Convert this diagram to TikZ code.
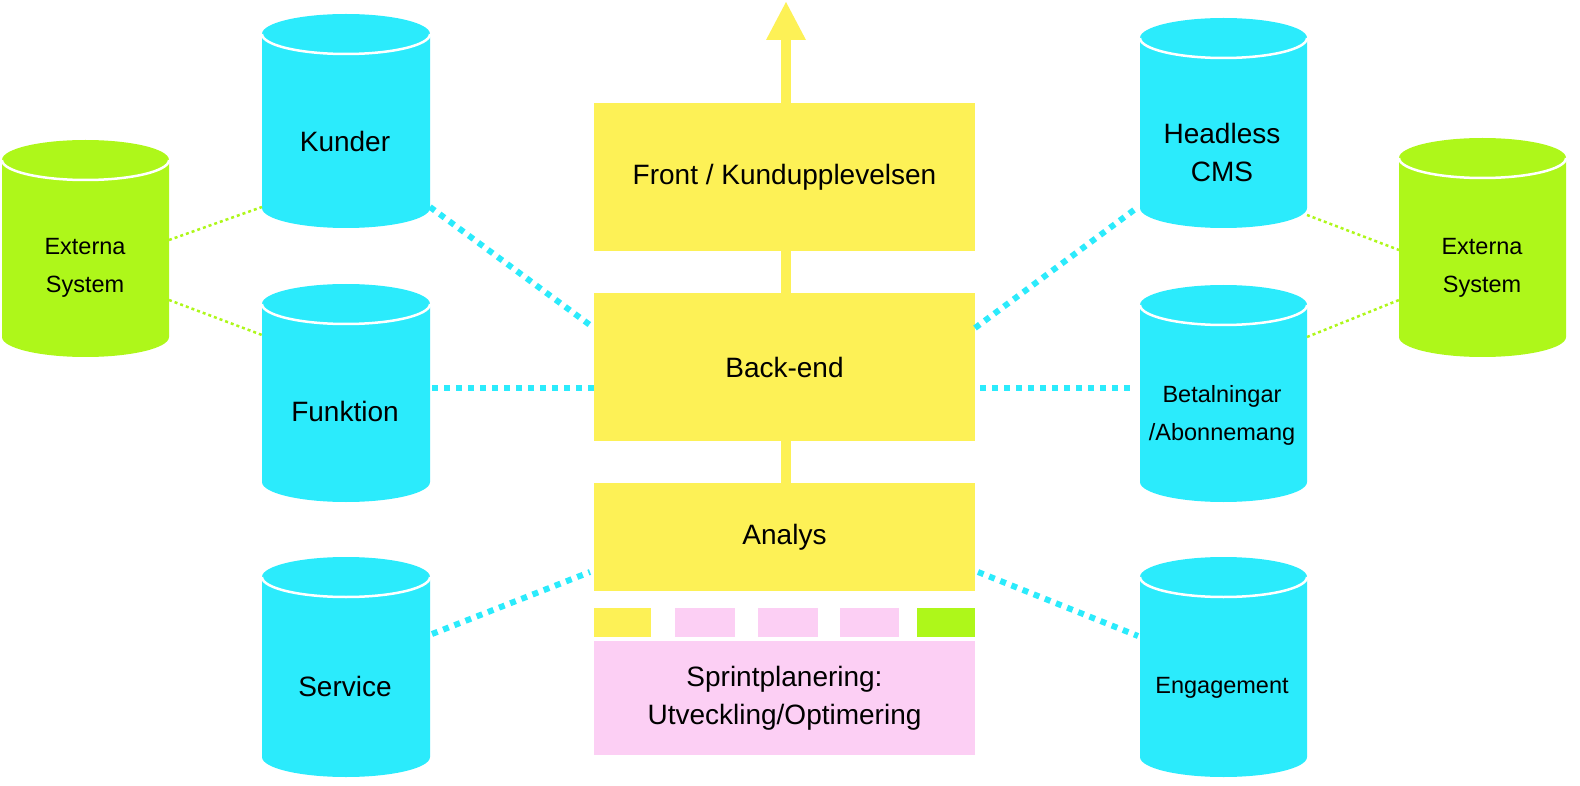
\documentclass[tikz,border=0pt]{standalone}
\usepackage{fontspec}
\setmainfont{Liberation Sans}
\definecolor{cy}{HTML}{2BEBFC}
\definecolor{gr}{HTML}{AEF71A}
\definecolor{ye}{HTML}{FDF156}
\definecolor{pk}{HTML}{FCCFF4}
\newcommand\mycyl[5]{%
  \fill[#5] (#1,{-(#2+20)}) -- (#1,{-(#4-20)}) arc[start angle=180,end angle=360,x radius={(#3-#1)/2},y radius=20] -- (#3,{-(#2+20)}) arc[start angle=0,end angle=180,x radius={(#3-#1)/2},y radius=20] -- cycle;%
  \draw[white,line width=2.5pt] (#1,{-(#2+20)}) arc[start angle=180,end angle=360,x radius={(#3-#1)/2},y radius=20];%
}
\begin{document}
\begin{tikzpicture}[x=1pt,y=1pt,
  box/.style={rectangle,inner sep=0pt,minimum width=381pt,font=\fontsize{28}{38}\selectfont,align=center},
  lbl/.style={font=\fontsize{28}{38}\selectfont,align=center},
  slbl/.style={font=\fontsize{23.5}{38}\selectfont,align=center},
  cdot/.style={cy,line width=6pt,dash pattern=on 6pt off 6pt},
  gdot/.style={gr,line width=2.5pt,dash pattern=on 3pt off 3pt}]
\useasboundingbox (0,0) rectangle (1580,-786);
% arrow and links
\fill[ye] (781,-40) rectangle (791,-103);
\fill[ye] (766,-40) -- (806,-40) -- (786,-2) -- cycle;
\fill[ye] (781,-251) rectangle (791,-293);
\fill[ye] (781,-441) rectangle (791,-483);
% boxes
\node[box,fill=ye,minimum height=148pt] (front) at (784.5,-177) {Front / Kundupplevelsen};
\node[box,fill=ye,minimum height=148pt] (back) at (784.5,-367) {Back-end};
\node[box,fill=ye,minimum height=108pt] (analys) at (784.5,-537) {Analys};
\node[box,fill=pk,minimum height=114pt] (sprint) at (784.5,-698) {Sprintplanering:\\Utveckling/Optimering};
\fill[ye] (594,-608) rectangle (651,-637);
\fill[pk] (675,-608) rectangle (735,-637);
\fill[pk] (758,-608) rectangle (818,-637);
\fill[pk] (840,-608) rectangle (899,-637);
\fill[gr] (917,-608) rectangle (975,-637);
% cylinders
\mycyl{262}{14}{430}{228}{cy}
\mycyl{262}{284}{430}{502}{cy}
\mycyl{262}{557}{430}{777}{cy}
\mycyl{1140}{18}{1307}{228}{cy}
\mycyl{1140}{285}{1307}{502}{cy}
\mycyl{1140}{557}{1307}{777}{cy}
\mycyl{2}{140}{169}{357}{gr}
\mycyl{1399}{138}{1566}{357}{gr}
\node[lbl] (kunder) at (345,-141) {Kunder};
\node[lbl] (funk) at (345,-411) {Funktion};
\node[lbl] (serv) at (345,-686) {Service};
\node[lbl] (cms) at (1222,-152) {Headless\\CMS};
\node[slbl] (bet) at (1222,-415) {Betalningar\\/Abonnemang};
\node[slbl] (eng) at (1222,-688) {Engagement};
\node[slbl] (extl) at (85,-268) {Externa\\System};
\node[slbl] (extr) at (1482,-268) {Externa\\System};
% connector endpoints
\coordinate (a1) at (430,-207); \coordinate (a2) at (594,-328);
\coordinate (b1) at (432,-388); \coordinate (b2) at (594,-388);
\coordinate (c1) at (432,-634); \coordinate (c2) at (590,-572);
\coordinate (d1) at (975,-328); \coordinate (d2) at (1138,-207);
\coordinate (e1) at (980,-388); \coordinate (e2) at (1135,-388);
\coordinate (f1) at (978,-572); \coordinate (f2) at (1138,-636);
\draw[cdot] (a1) -- (a2); \draw[cdot] (b1) -- (b2); \draw[cdot] (c1) -- (c2);
\draw[cdot] (d1) -- (d2); \draw[cdot] (e1) -- (e2); \draw[cdot] (f1) -- (f2);
\coordinate (g1) at (169,-240); \coordinate (g2) at (262,-207);
\coordinate (h1) at (169,-300); \coordinate (h2) at (262,-335);
\coordinate (i1) at (1307,-215); \coordinate (i2) at (1399,-250);
\coordinate (j1) at (1307,-337); \coordinate (j2) at (1399,-300);
\draw[gdot] (g1) -- (g2); \draw[gdot] (h1) -- (h2);
\draw[gdot] (i1) -- (i2); \draw[gdot] (j1) -- (j2);
\end{tikzpicture}
\end{document}
